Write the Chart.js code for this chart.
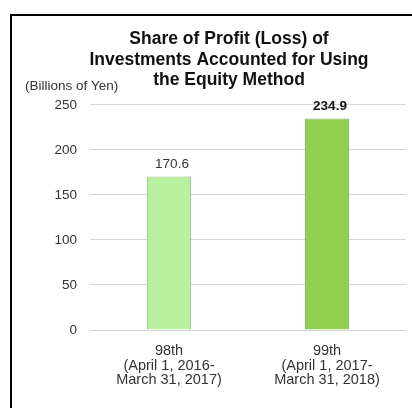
<!DOCTYPE html>
<html>
<head>
<meta charset="utf-8">
<script src="https://cdn.jsdelivr.net/npm/chart.js@4.4.1/dist/chart.umd.min.js"></script>
<style>
  html, body { margin: 0; padding: 0; background: #fff; }
  #wrap { position: relative; width: 412px; height: 408px; }
  #frame { position: absolute; left: 10px; top: 14px; right: 0; bottom: 0;
           border-left: 2px solid #000; border-top: 2px solid #000; pointer-events: none; }
  canvas { position: absolute; left: 0; top: 0; }
</style>
</head>
<body>
<div id="wrap">
  <canvas id="c" width="412" height="408"></canvas>
  <div id="frame"></div>
</div>
<script>
const titleLines = ["Share of Profit (Loss) of", "Investments Accounted for Using", "the Equity Method"];
const unitLabel = "(Billions of Yen)";
const categories = [
  ["98th", "(April 1, 2016-", "March 31, 2017)"],
  ["99th", "(April 1, 2017-", "March 31, 2018)"]
];
const values = [170.6, 234.9];
const valueLabels = ["170.6", "234.9"];
const barColors = ["#b8f0a0", "#92d050"];
const barBorders = ["#9cbc8c", "#86ac62"];

const FONT = '"Liberation Sans", Arial, sans-serif';

const extras = {
  id: 'extras',
  afterDatasetsDraw(chart) {
    const ctx = chart.ctx;
    const meta = chart.getDatasetMeta(0);
    ctx.save();
    ctx.textAlign = 'center';
    ctx.textBaseline = 'middle';
    meta.data.forEach((bar, i) => {
      ctx.fillStyle = i === 1 ? '#111' : '#333';
      ctx.font = (i === 1 ? 'bold ' : '') + '13.5px ' + FONT;
      ctx.fillText(valueLabels[i], bar.x + 3, bar.y - 12);
    });
    ctx.fillStyle = '#333';
    ctx.font = '13.5px ' + FONT;
    ctx.textAlign = 'left';
    ctx.fillText(unitLabel, 25, 86);
    ctx.restore();
  }
};

new Chart(document.getElementById('c'), {
  type: 'bar',
  data: {
    labels: categories,
    datasets: [{
      data: values,
      backgroundColor: barColors,
      borderColor: barBorders,
      borderWidth: 1,
      barPercentage: 0.28,
      categoryPercentage: 1
    }]
  },
  options: {
    responsive: false,
    animation: false,
    devicePixelRatio: 1,
    layout: { padding: { left: 52, right: 6, top: 0, bottom: 0 } },
    plugins: {
      legend: { display: false },
      tooltip: { enabled: false },
      title: {
        display: true,
        text: titleLines,
        color: '#111',
        font: { family: FONT, size: 17.5, weight: 'bold', lineHeight: 1.17 },
        padding: { top: 29, bottom: 14.5 }
      }
    },
    scales: {
      x: {
        grid: { display: false, drawTicks: false },
        border: { display: false },
        ticks: {
          color: '#333',
          padding: 14,
          maxRotation: 0,
          font: { family: FONT, size: 14.5, lineHeight: 1.0 }
        },
        afterFit(s) { s.height = 78; }
      },
      y: {
        min: 0, max: 250,
        ticks: {
          stepSize: 50,
          color: '#333',
          padding: 13,
          font: { family: FONT, size: 13.5 }
        },
        grid: { color: '#d6d6d6', drawTicks: false, lineWidth: 1 },
        border: { display: false },
        afterFit(s) { s.width = 38; }
      }
    }
  },
  plugins: [extras]
});
</script>
</body>
</html>
